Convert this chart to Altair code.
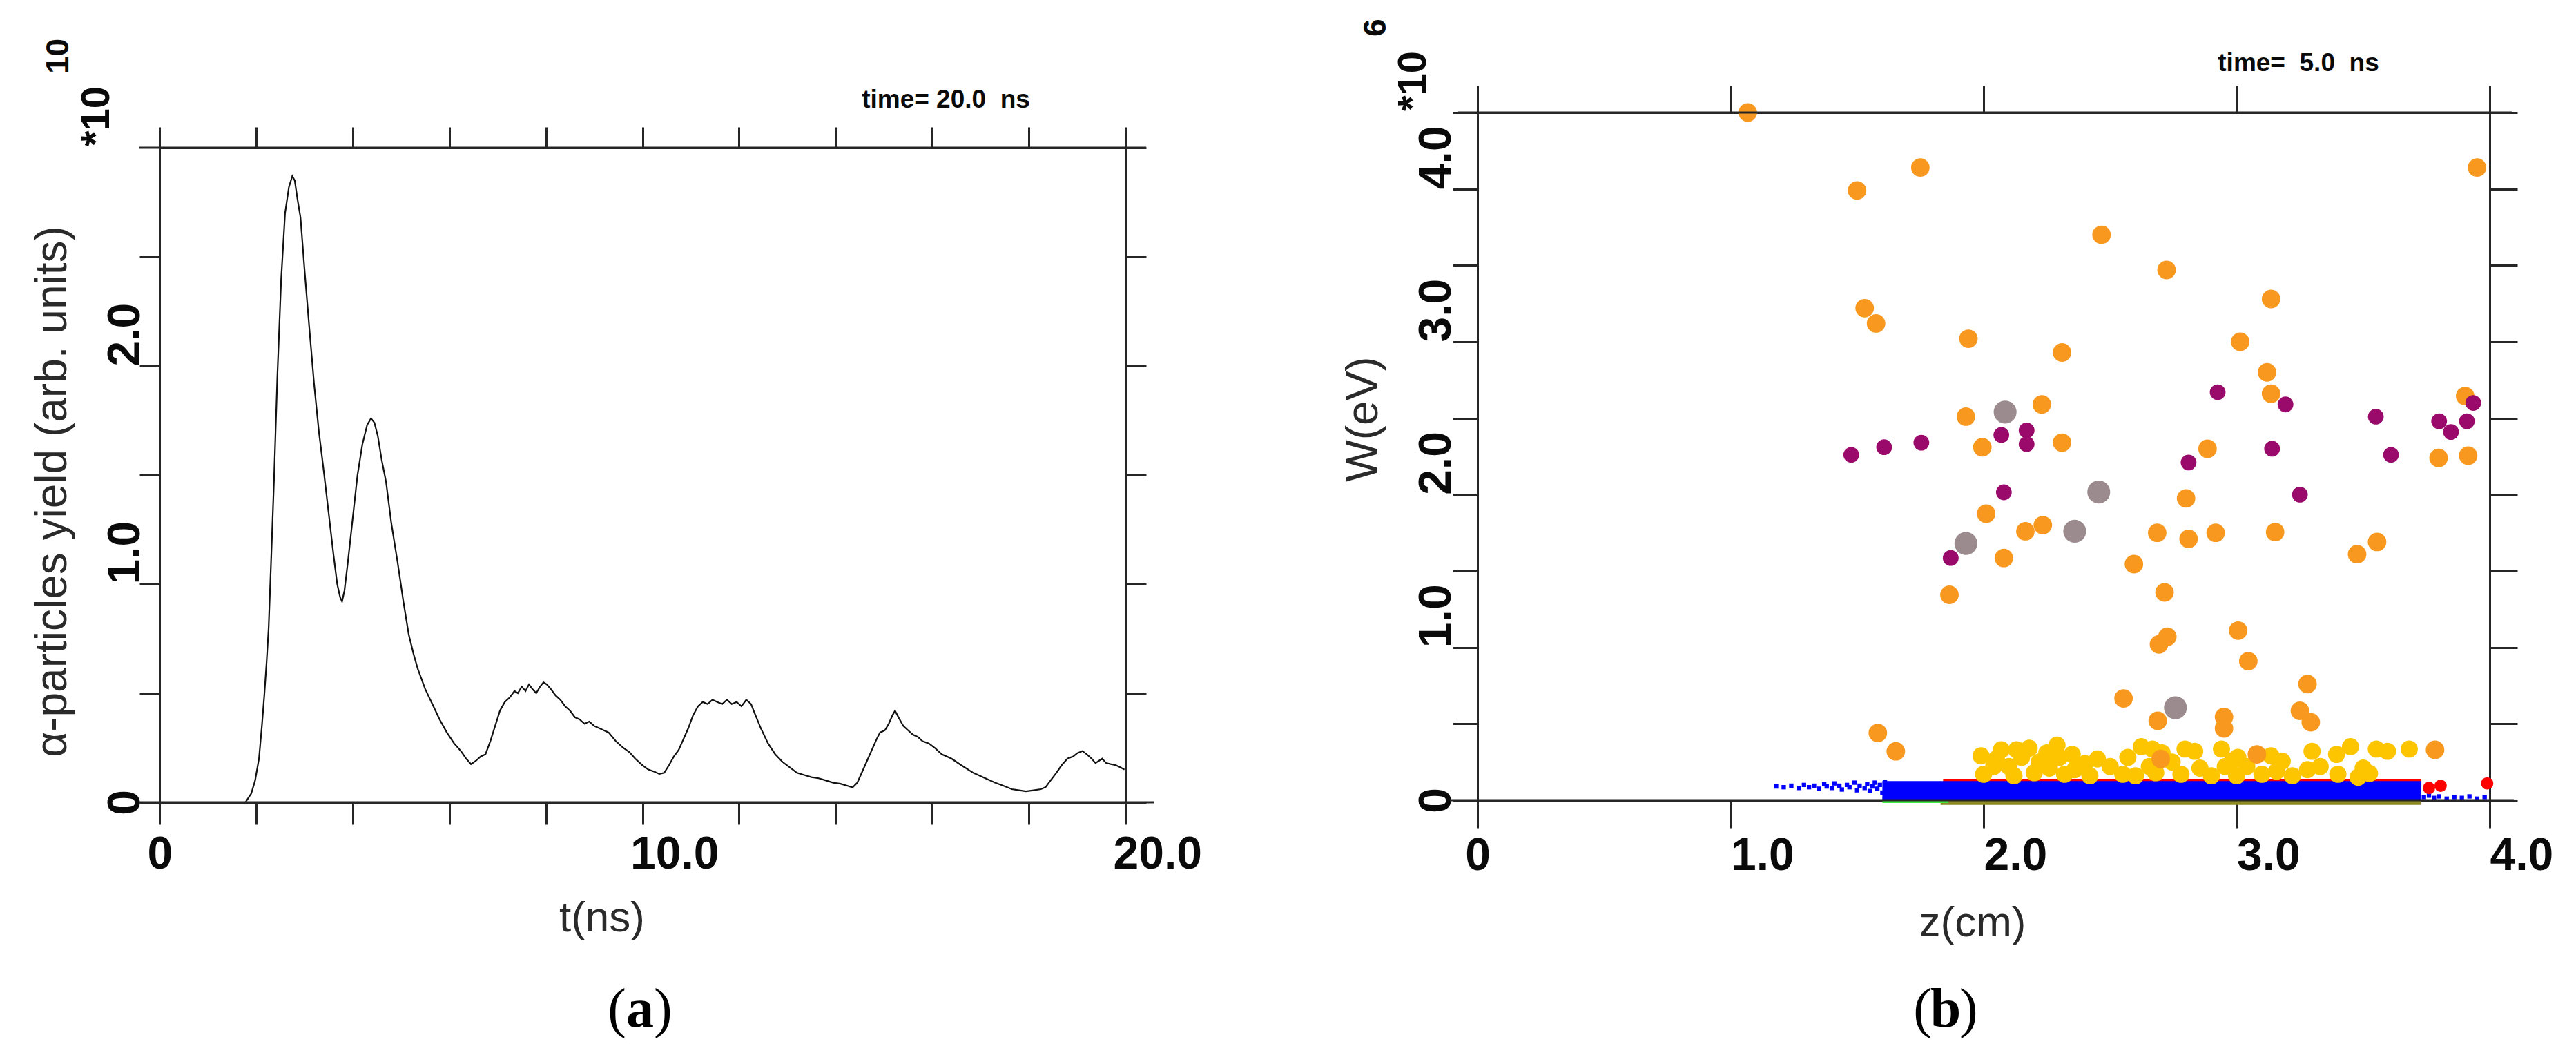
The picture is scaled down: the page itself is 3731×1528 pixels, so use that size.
import altair as alt
import pandas as pd

# ---------------- panel (a): alpha-particle yield vs time ----------------
t_ns = [1.78, 1.84, 1.90, 1.98, 2.06, 2.12, 2.17, 2.22, 2.26, 2.31, 2.37, 2.44, 2.52, 2.60, 2.68, 2.75,
        2.80, 2.86, 2.92, 3.00, 3.10, 3.20, 3.30, 3.40, 3.50, 3.60, 3.68, 3.74, 3.78, 3.83, 3.90, 4.00,
        4.10, 4.20, 4.30, 4.38, 4.45, 4.52, 4.60, 4.69, 4.80, 4.93, 5.05, 5.16, 5.26, 5.35, 5.50, 5.65,
        5.80, 5.95, 6.10, 6.24, 6.35, 6.45, 6.55, 6.65, 6.75, 6.85, 6.95, 7.05, 7.15, 7.25, 7.35, 7.42,
        7.50, 7.58, 7.65, 7.72, 7.80, 7.88, 7.95, 8.02, 8.10, 8.20, 8.30, 8.40, 8.50, 8.60, 8.70, 8.80,
        8.90, 9.00, 9.10, 9.20, 9.30, 9.45, 9.60, 9.73, 9.85, 10.00, 10.12, 10.25, 10.35, 10.45, 10.55,
        10.65, 10.75, 10.85, 10.95, 11.05, 11.15, 11.25, 11.35, 11.45, 11.55, 11.65, 11.75, 11.85, 11.95,
        12.05, 12.15, 12.25, 12.32, 12.45, 12.60, 12.75, 12.90, 13.05, 13.20, 13.35, 13.50, 13.65, 13.80,
        13.95, 14.10, 14.25, 14.35, 14.45, 14.55, 14.65, 14.75, 14.85, 14.92, 15.02, 15.10, 15.18, 15.23,
        15.30, 15.40, 15.50, 15.60, 15.70, 15.80, 15.93, 16.05, 16.20, 16.40, 16.60, 16.85, 17.10, 17.30,
        17.48, 17.65, 17.80, 17.94, 18.10, 18.25, 18.35, 18.45, 18.57, 18.68, 18.80, 18.92, 19.00, 19.11,
        19.20, 19.30, 19.38, 19.45, 19.52, 19.60, 19.70, 19.80, 19.90, 19.98]
alpha_yield = [0.00, 0.02, 0.04, 0.10, 0.20, 0.35, 0.49, 0.65, 0.80, 1.10, 1.47, 1.95, 2.40, 2.70, 2.82, 2.87,
               2.85, 2.76, 2.68, 2.45, 2.18, 1.92, 1.70, 1.52, 1.33, 1.14, 1.00, 0.94, 0.92, 0.97, 1.10, 1.30,
               1.50, 1.64, 1.73, 1.76, 1.74, 1.68, 1.57, 1.47, 1.28, 1.10, 0.92, 0.77, 0.68, 0.61, 0.52, 0.45,
               0.38, 0.32, 0.27, 0.235, 0.20, 0.175, 0.19, 0.21, 0.22, 0.28, 0.35, 0.42, 0.46, 0.48, 0.51, 0.50,
               0.53, 0.51, 0.54, 0.52, 0.50, 0.53, 0.55, 0.54, 0.52, 0.49, 0.47, 0.44, 0.42, 0.39, 0.38, 0.36,
               0.37, 0.35, 0.34, 0.33, 0.32, 0.28, 0.25, 0.23, 0.20, 0.17, 0.15, 0.14, 0.13, 0.135, 0.17,
               0.21, 0.24, 0.29, 0.34, 0.40, 0.44, 0.46, 0.45, 0.47, 0.46, 0.45, 0.47, 0.45, 0.46,
               0.44, 0.47, 0.45, 0.41, 0.34, 0.27, 0.22, 0.185, 0.16, 0.135, 0.125, 0.115, 0.11, 0.10,
               0.09, 0.085, 0.075, 0.068, 0.09, 0.14, 0.19, 0.24, 0.29, 0.32, 0.33, 0.36, 0.40, 0.42,
               0.39, 0.35, 0.33, 0.31, 0.30, 0.28, 0.27, 0.25, 0.22, 0.20, 0.17, 0.135, 0.11, 0.09,
               0.075, 0.06, 0.055, 0.05, 0.055, 0.06, 0.07, 0.10, 0.135, 0.17, 0.20, 0.21, 0.225, 0.235,
               0.22, 0.20, 0.18, 0.19, 0.20, 0.18, 0.175, 0.17, 0.16, 0.15]

a_x_ticks = [0, 2, 4, 6, 8, 10, 12, 14, 16, 18, 20]
a_y_ticks = [0, 0.5, 1.0, 1.5, 2.0, 2.5]
a_y_ticks_right = [0, 0.5, 1.0, 1.5, 2.0, 2.5, 3.0]

# ---------------- panel (b): particle energy W vs z ----------------
orange_z = [1.068, 1.50, 1.75, 3.95, 2.466, 2.723, 1.53, 1.575, 3.136, 1.94, 3.014, 2.31, 3.12, 3.136,
            3.903, 2.23, 1.93, 1.995, 2.31, 2.885, 3.798, 3.915, 2.80, 2.01, 2.686, 2.81, 2.917, 3.152,
            2.165, 2.234, 2.08, 3.476, 3.555, 2.594, 1.865, 2.715, 2.726, 2.693, 3.006, 3.046, 3.28,
            2.553, 2.688, 2.95, 2.95, 3.25, 3.293, 3.784, 1.582, 1.653, 2.70, 3.08]
orange_w = [4.50, 3.99, 4.14, 4.14, 3.70, 3.47, 3.22, 3.12, 3.28, 3.02, 3.00, 2.93, 2.80, 2.66,
            2.645, 2.59, 2.51, 2.31, 2.34, 2.30, 2.24, 2.255, 1.975, 1.875, 1.75, 1.71, 1.75, 1.755,
            1.76, 1.80, 1.585, 1.61, 1.69, 1.545, 1.344, 1.36, 1.07, 1.02, 1.11, 0.91, 0.76,
            0.666, 0.52, 0.545, 0.47, 0.585, 0.51, 0.33, 0.44, 0.32, 0.27, 0.30]

purple_z = [1.477, 1.607, 1.754, 2.07, 2.17, 2.17, 2.08, 1.87, 2.925, 3.193, 3.935, 3.55, 3.80, 3.847,
            3.91, 3.14, 2.81, 3.61, 3.25]
purple_w = [2.26, 2.31, 2.34, 2.39, 2.42, 2.33, 2.015, 1.585, 2.67, 2.59, 2.60, 2.51, 2.48, 2.41,
            2.48, 2.30, 2.21, 2.26, 2.00]

gray_z = [2.085, 1.93, 2.36, 2.455, 2.758]
gray_w = [2.54, 1.68, 1.76, 2.017, 0.605]

yellow_z = [1.99, 2.00, 2.04, 2.05, 2.07, 2.10, 2.12, 2.13, 2.15, 2.18, 2.20, 2.22, 2.25, 2.26, 2.29,
            2.30, 2.32, 2.35, 2.36, 2.40, 2.42, 2.45, 2.50, 2.55, 2.57, 2.60, 2.623, 2.655, 2.667, 2.68,
            2.705, 2.745, 2.78, 2.796, 2.834, 2.855, 2.90, 2.94, 2.955, 2.985, 3.00, 3.005, 3.04, 3.10,
            3.136, 3.158, 3.18, 3.22, 3.28, 3.298, 3.33, 3.395, 3.40, 3.45, 3.48, 3.50, 3.525, 3.552,
            3.596, 3.682]
yellow_w = [0.29, 0.17, 0.22, 0.27, 0.33, 0.22, 0.16, 0.33, 0.28, 0.34, 0.18, 0.25, 0.31, 0.21, 0.36,
            0.28, 0.17, 0.30, 0.20, 0.24, 0.16, 0.27, 0.22, 0.17, 0.28, 0.16, 0.35, 0.22, 0.335, 0.18,
            0.31, 0.25, 0.17, 0.335, 0.32, 0.21, 0.16, 0.335, 0.22, 0.26, 0.16, 0.28, 0.22, 0.17,
            0.29, 0.19, 0.255, 0.16, 0.20, 0.32, 0.22, 0.30, 0.17, 0.35, 0.15, 0.21, 0.175, 0.335,
            0.32, 0.335]

blue_z = [1.18, 1.21, 1.24, 1.27, 1.29, 1.31, 1.33, 1.35, 1.37, 1.38, 1.40, 1.41, 1.43, 1.44, 1.46,
          1.47, 1.49, 1.50, 1.51, 1.53, 1.54, 1.55, 1.56, 1.57, 1.58, 1.59, 1.60, 1.61,
          3.74, 3.76, 3.78, 3.80, 3.83, 3.86, 3.89, 3.92, 3.95, 3.98]
blue_w = [0.09, 0.085, 0.095, 0.08, 0.10, 0.085, 0.095, 0.075, 0.105, 0.09, 0.08, 0.11, 0.095, 0.07, 0.10,
          0.085, 0.115, 0.065, 0.095, 0.08, 0.105, 0.06, 0.09, 0.115, 0.075, 0.10, 0.05, 0.12,
          0.02, 0.03, 0.015, 0.025, 0.01, 0.02, 0.015, 0.025, 0.01, 0.02]

red_z = [3.76, 3.806, 3.99]
red_w = [0.08, 0.095, 0.11]

band_z1 = [1.83, 1.60, 1.84, 1.60]
band_z2 = [3.73, 1.86, 3.73, 3.73]
band_w1 = [-0.03, -0.018, 0.09, 0.005]
band_w2 = [-0.005, 0.015, 0.14, 0.125]
band_color = ["#8c8a24", "#3ee83e", "#ff0000", "#0000ff"]

b_x_ticks = [0, 1, 2, 3, 4]
b_y_ticks = [0, 0.5, 1.0, 1.5, 2.0, 2.5, 3.0, 3.5, 4.0, 4.5]

# ---------------- styling helpers ----------------
FONT = "Liberation Sans"
SERIF = "Liberation Serif"
AX = "#262626"
ZERO_CENTER = {"condition": {"test": "datum.value == 0", "value": "center"}, "value": "left"}


def axis(orient, values, tick, labels=True, **kw):
    d = dict(orient=orient, values=values, tickSize=tick, tickWidth=3, tickColor=AX,
             domain=True, domainWidth=3, domainColor=AX, grid=False, title=None,
             labels=labels, ticks=True)
    if labels:
        d.update(labelFont=FONT, labelFontSize=66, labelFontWeight="bold", labelColor="#0a0a0a",
                 labelFlush=False, labelOverlap=False)
    d.update(kw)
    return alt.Axis(**d)


def txt(s, x, y, size, weight="normal", angle=0, align="center", baseline="middle",
        font=FONT, color="#2a2a2a"):
    return alt.Chart(pd.DataFrame({"s": [s]})).mark_text(
        align=align, baseline=baseline, angle=angle, font=font, fontSize=size,
        fontWeight=weight, color=color
    ).encode(x=alt.value(x), y=alt.value(y), text="s:N")


def hline(x1, x2, y):
    return alt.Chart(pd.DataFrame({"k": [0]})).mark_rule(color=AX, strokeWidth=3).encode(
        x=alt.value(x1), x2=alt.value(x2), y=alt.value(y))


NB = "\u00a0"

# ---------------- panel (a) ----------------
WA, HA, TOPA = 1399, 999, 51
xa = alt.Scale(domain=[0, 20], nice=False, zero=False)
ya = alt.Scale(domain=[0, 3], range=[HA, TOPA], nice=False, zero=False)
dfa = pd.DataFrame({"t": t_ns, "v": alpha_yield})

line_a = alt.Chart(dfa).mark_line(color="#111111", strokeWidth=2.2).encode(
    x=alt.X("t:Q", scale=xa, axis=axis(
        "bottom", a_x_ticks, 32,
        labelExpr="datum.value == 0 ? '0' : (datum.value % 10 == 0 ? format(datum.value, '.1f') : '')",
        labelAlign="left", labelOffset=-18, labelBaseline="top", labelPadding=11)),
    y=alt.Y("v:Q", scale=ya, axis=axis(
        "left", a_y_ticks, 29,
        labelExpr="datum.value == 0 ? '0' : (datum.value % 1 == 0 ? format(datum.value, '.1f') : '')",
        labelAngle=270, labelAlign=ZERO_CENTER, labelBaseline="alphabetic", labelPadding=1)),
)
frame_a = alt.Chart(dfa).mark_line(opacity=0).encode(
    x=alt.X("t:Q", scale=xa, axis=axis("top", a_x_ticks, 30, labels=False, offset=-TOPA)),
    y=alt.Y("v:Q", scale=ya, axis=axis("right", a_y_ticks_right, 30, labels=False)),
)

panel_a = alt.layer(
    frame_a, line_a,
    hline(-30, WA + 30, TOPA), hline(-30, WA + 41, HA),
    txt("\u03b1-particles yield (arb. units)", -154, 549, 64, angle=270),
    txt("*10", -73, 49, 58, weight="bold", angle=270, align="left", baseline="alphabetic", color="#0a0a0a"),
    txt("10", -132, -56, 46, weight="bold", angle=270, align="left", baseline="alphabetic", color="#0a0a0a"),
    txt("time=" + NB + "20.0" + NB + NB + "ns", 1139, -18, 37, weight="bold", color="#0a0a0a"),
    txt("t(ns)", 641, 1167, 62),
    txt("(", 676, 1324, 80, align="right", baseline="alphabetic", font=SERIF, color="#000000"),
    txt("a", 696, 1324, 80, weight="bold", baseline="alphabetic", font=SERIF, color="#000000"),
    txt(")", 716, 1324, 80, align="left", baseline="alphabetic", font=SERIF, color="#000000"),
).properties(width=WA, height=HA)

# ---------------- panel (b) ----------------
WB, HB = 1466, 996
xb = alt.Scale(domain=[0, 4], nice=False, zero=False)
yb = alt.Scale(domain=[0, 4.5], nice=False, zero=False)

dfband = pd.DataFrame({"z1": band_z1, "z2": band_z2, "w1": band_w1, "w2": band_w2, "c": band_color})
bands = alt.Chart(dfband).mark_rect().encode(
    x=alt.X("z1:Q", scale=xb, axis=axis(
        "bottom", b_x_ticks, 40,
        labelExpr="datum.value == 0 ? '0' : format(datum.value, '.1f')",
        labelAlign=ZERO_CENTER, labelBaseline="top", labelPadding=8)),
    x2="z2:Q",
    y=alt.Y("w1:Q", scale=yb, axis=axis(
        "left", b_y_ticks, 36,
        labelExpr="datum.value == 0 ? '0' : (datum.value % 1 == 0 ? format(datum.value, '.1f') : '')",
        labelAngle=270, labelAlign=ZERO_CENTER, labelBaseline="alphabetic", labelPadding=4)),
    y2="w2:Q",
    color=alt.Color("c:N", scale=None),
)


def pts(zs, ws, color, size, shape="circle"):
    df = pd.DataFrame({"z": zs, "w": ws})
    return alt.Chart(df).mark_point(filled=True, shape=shape, color=color, size=size, opacity=1).encode(
        x=alt.X("z:Q", scale=xb, axis=None), y=alt.Y("w:Q", scale=yb, axis=None))


frame_b = alt.Chart(pd.DataFrame({"z": orange_z, "w": orange_w})).mark_point(opacity=0).encode(
    x=alt.X("z:Q", scale=xb, axis=axis("top", b_x_ticks, 39, labels=False)),
    y=alt.Y("w:Q", scale=yb, axis=axis("right", b_y_ticks, 40, labels=False)),
)

panel_b = alt.layer(
    frame_b, bands,
    pts(blue_z, blue_w, "#0000ff", 40, shape="square"),
    pts(red_z, red_w, "#ff0000", 320),
    pts(yellow_z, yellow_w, "#fcc500", 620),
    pts(orange_z, orange_w, "#f8981f", 720),
    pts(gray_z, gray_w, "#9c8b8e", 1100),
    pts(purple_z, purple_w, "#990a6a", 520),
    hline(-29, WB + 32, 0), hline(-40, WB + 35, HB),
    txt("W(eV)", -164, 444, 64, angle=270),
    txt("*10", -75, -2, 58, weight="bold", angle=270, align="left", baseline="alphabetic", color="#0a0a0a"),
    txt("6", -133, -110, 46, weight="bold", angle=270, align="left", baseline="alphabetic", color="#0a0a0a"),
    txt("time=" + NB + NB + "5.0" + NB + NB + "ns", 1189, -71, 37, weight="bold", color="#0a0a0a"),
    txt("z(cm)", 717, 1174, 62),
    txt("(", 658, 1324, 80, align="right", baseline="alphabetic", font=SERIF, color="#000000"),
    txt("b", 678, 1324, 80, weight="bold", baseline="alphabetic", font=SERIF, color="#000000"),
    txt(")", 698, 1324, 80, align="left", baseline="alphabetic", font=SERIF, color="#000000"),
).properties(width=WB, height=HB)

chart = alt.hconcat(panel_a, panel_b, spacing=510, bounds="flush").properties(
    padding={"left": 36, "top": 18, "right": 10, "bottom": 10},
    background="white",
).configure_view(stroke="transparent")

chart.save("out.html", embed_options={"renderer": "svg", "actions": False})
